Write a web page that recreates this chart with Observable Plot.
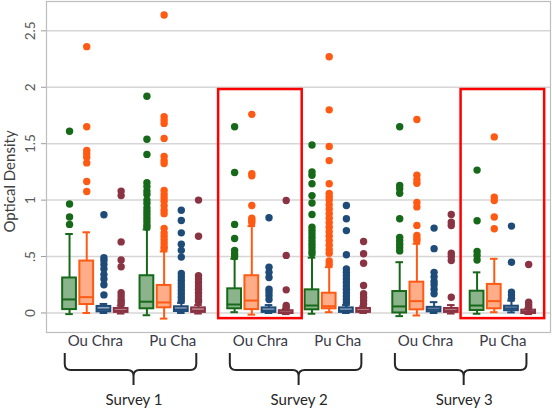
<!DOCTYPE html>
<html>
<head>
<meta charset="utf-8">
<script src="https://cdn.jsdelivr.net/npm/d3@7"></script>
<script src="https://cdn.jsdelivr.net/npm/@observablehq/plot@0.6"></script>
<style>
  html, body { margin: 0; padding: 0; background: #fff; }
  #chart svg { display: block; }
</style>
</head>
<body>
<div id="chart"></div>
<script>
// ---- data ----
const surveys = ["Survey 1", "Survey 2", "Survey 3"];
const sites = ["Ou Chra", "Pu Cha"];
const series = ["Series 1", "Series 2", "Series 3", "Series 4"];
const seriesColors = ["#17691a", "#ff5a14", "#1f4b79", "#8a3342"];
const yTicks = [0, 0.5, 1, 1.5, 2, 2.5];
const yTickLabels = ["0", ".5", "1", "1.5", "2", "2.5"];
const yTitle = "Optical Density";
const highlighted = [["Survey 2", "Ou Chra"], ["Survey 3", "Pu Cha"]];

// order: S1 Ou, S1 Pu, S2 Ou, S2 Pu, S3 Ou, S3 Pu; within each: series 1..4
const lowWhisker = [
  -0.01, 0.0, 0.0, -0.005,   -0.02, -0.05, 0.0, -0.005,
  0.007, -0.015, 0.0, -0.01, -0.007, 0.007, 0.0, 0.0,
  -0.028, -0.022, 0.0, -0.005, -0.007, 0.007, 0.005, -0.01
];
const q1 = [
  0.03, 0.075, 0.01, 0.005,  0.037, 0.046, 0.013, 0.005,
  0.037, 0.03, 0.005, -0.005, 0.028, 0.037, 0.005, 0.005,
  0.0, 0.028, 0.01, 0.005,  0.022, 0.037, 0.02, -0.005
];
const median = [
  0.12, 0.14, 0.03, 0.02,   0.10, 0.093, 0.03, 0.02,
  0.075, 0.11, 0.02, 0.005, 0.066, 0.06, 0.02, 0.02,
  0.058, 0.105, 0.03, 0.02, 0.066, 0.105, 0.04, 0.01
];
const q3 = [
  0.31, 0.46, 0.058, 0.04,  0.33, 0.244, 0.055, 0.045,
  0.214, 0.33, 0.045, 0.02, 0.205, 0.175, 0.045, 0.04,
  0.19, 0.273, 0.05, 0.04,  0.193, 0.253, 0.06, 0.025
];
const highWhisker = [
  0.70, 0.715, 0.08, 0.065, 0.74, 0.545, 0.09, 0.07,
  0.48, 0.77, 0.07, 0.035,  0.49, 0.406, 0.07, 0.06,
  0.45, 0.613, 0.096, 0.07, 0.36, 0.48, 0.11, 0.04
];
const outliers = [
  [1.61, 0.965, 0.85, 0.785],
  [2.36, 1.65, 1.44, 1.41, 1.38, 1.33, 1.165, 1.077],
  [0.87, 0.49, 0.465, 0.43, 0.39, 0.34, 0.30, 0.25, 0.16],
  [1.08, 1.04, 0.63, 0.47, 0.41, 0.18, 0.15, 0.12, 0.10, 0.08],

  [1.92, 1.54, 1.405, 1.155, 1.12, 1.08, 1.05, 1.0, 0.97, 0.93, 0.90, 0.87, 0.84, 0.81, 0.78, 0.76],
  [2.64, 1.74, 1.71, 1.68, 1.547, 1.387, 1.35, 1.325, 1.085, 1.05, 1.02, 0.99, 0.95, 0.91, 0.88, 0.75, 0.71, 0.68, 0.65, 0.62, 0.59, 0.57],
  [0.91, 0.82, 0.71, 0.61, 0.555, 0.495, 0.35, 0.32, 0.29, 0.26, 0.23, 0.20, 0.17, 0.14, 0.11],
  [1.0, 0.68, 0.33, 0.30, 0.27, 0.24, 0.21, 0.18, 0.15, 0.12, 0.10],

  [1.65, 1.245, 0.785, 0.66, 0.555, 0.525, 0.50],
  [1.76, 1.235, 1.215, 0.953, 0.84, 0.82, 0.80],
  [0.844, 0.405, 0.36, 0.315, 0.21, 0.185, 0.155, 0.12],
  [0.997, 0.51, 0.205, 0.066, 0.05],

  [1.488, 1.25, 1.22, 1.145, 1.04, 0.975, 0.873, 0.76, 0.73, 0.70, 0.67, 0.64, 0.61, 0.58, 0.55, 0.525],
  [2.27, 1.80, 1.476, 1.35, 1.145, 1.06, 1.03, 1.0, 0.96, 0.92, 0.88, 0.84, 0.80, 0.76, 0.72, 0.68, 0.64, 0.60, 0.56, 0.53, 0.46, 0.43],
  [0.953, 0.835, 0.73, 0.516, 0.39, 0.36, 0.33, 0.30, 0.27, 0.24, 0.21, 0.18, 0.15, 0.12, 0.09],
  [0.634, 0.525, 0.44, 0.244, 0.17, 0.14, 0.11, 0.08],

  [1.65, 1.13, 1.10, 1.06, 0.835, 0.67, 0.64, 0.61, 0.58, 0.55],
  [1.715, 1.22, 1.18, 1.15, 0.98, 0.94, 0.776, 0.687, 0.66, 0.64],
  [0.752, 0.57, 0.36, 0.32, 0.28, 0.25, 0.21, 0.17],
  [0.873, 0.805, 0.775, 0.53, 0.50, 0.465, 0.14],

  [1.266, 0.817, 0.545, 0.51, 0.47],
  [1.56, 1.027, 0.997, 0.85, 0.746],
  [0.77, 0.45, 0.185, 0.16, 0.13],
  [0.43, 0.096, 0.07, 0.05]
];

// ---- layout helpers (slot positions from category indices) ----
const SURVEY_STEP = 9.6, SITE_STEP = 4.5;
const slot = (s, t, k) => s * SURVEY_STEP + t * SITE_STEP + k;

const boxes = [];
const dots = [];
const groups = [];
surveys.forEach((survey, s) => {
  sites.forEach((site, t) => {
    groups.push({survey, site, s, t, center: slot(s, t, 1.5), first: slot(s, t, 0), last: slot(s, t, 3)});
    series.forEach((ser, k) => {
      const i = s * 8 + t * 4 + k;
      boxes.push({survey, site, series: ser, pos: slot(s, t, k),
        lo: lowWhisker[i], q1: q1[i], med: median[i], q3: q3[i], hi: highWhisker[i]});
      outliers[i].forEach(v => dots.push({series: ser, pos: slot(s, t, k), v}));
    });
  });
});
const surveyRows = surveys.map((survey, s) => ({survey, s, center: slot(s, 0, 3.75)}));
const hiRows = groups.filter(g => highlighted.some(([a, b]) => a === g.survey && b === g.site));

const BW = 0.4, CW = 0.22;

const plot = Plot.plot({
  width: 552,
  height: 411,
  marginLeft: 46,
  marginRight: 2,
  marginTop: 1,
  marginBottom: 79,
  style: {fontFamily: "Lato, 'Open Sans', sans-serif", background: "#fff"},
  x: {domain: [-1.34, 27.97], axis: null},
  y: {domain: [-0.173, 2.76], axis: null},
  color: {domain: series, range: seriesColors},
  marks: [
    Plot.gridY(yTicks, {stroke: "#d6d6d6", strokeOpacity: 1, strokeWidth: 1.5}),
    Plot.frame({stroke: "#bdbdbd", strokeWidth: 1.2}),
    Plot.axisY(yTicks, {
      tickFormat: d => yTickLabels[yTicks.indexOf(d)],
      tickRotate: -90, tickSize: 5, tickPadding: 7,
      fontSize: 13.5, color: "#595959", stroke: "#9a9a9a",
      label: null
    }),
    // whiskers
    Plot.ruleX(boxes, {x: "pos", y1: "lo", y2: "hi", stroke: "series", strokeWidth: 2}),
    Plot.ruleY(boxes, {y: "hi", x1: d => d.pos - CW, x2: d => d.pos + CW, stroke: "series", strokeWidth: 2}),
    Plot.ruleY(boxes, {y: "lo", x1: d => d.pos - CW, x2: d => d.pos + CW, stroke: "series", strokeWidth: 2}),
    // boxes
    Plot.rect(boxes, {x1: d => d.pos - BW, x2: d => d.pos + BW, y1: "q1", y2: "q3",
      fill: "#fff", stroke: "none"}),
    Plot.rect(boxes, {x1: d => d.pos - BW, x2: d => d.pos + BW, y1: "q1", y2: "q3",
      fill: "series", fillOpacity: 0.5, stroke: "series", strokeWidth: 2}),
    Plot.ruleY(boxes, {y: "med", x1: d => d.pos - BW, x2: d => d.pos + BW, stroke: "series", strokeWidth: 2}),
    // outliers
    Plot.dot(dots, {x: "pos", y: "v", r: 3.7, fill: "series", stroke: "none"}),
    // highlight rectangles
    Plot.rect(hiRows, {x1: d => d.first - 0.93, x2: d => d.last + 0.93, y1: -0.05, y2: 1.98,
      fill: "none", stroke: "#ff0000", strokeWidth: 2.5}),
    // site labels
    Plot.text(groups, {x: "center", text: "site", frameAnchor: "bottom", dy: 13,
      fontSize: 15, fill: "#3a3a48"}),
    // survey labels
    Plot.text(surveyRows, {x: "center", text: "survey", frameAnchor: "bottom", dy: 72,
      fontSize: 15, fill: "#262626"})
  ]
});

const svg = d3.select(plot);
// y-axis title
svg.append("text")
  .attr("transform", "translate(9.5,181.5) rotate(-90)")
  .attr("text-anchor", "middle")
  .attr("dy", "0.35em")
  .attr("font-size", 15)
  .attr("fill", "#404040")
  .text(yTitle);

// curly braces under each survey, positioned with the plot's x scale
const xs = plot.scale("x");
const frameBottom = 411 - 79;
const g = svg.append("g").attr("fill", "none").attr("stroke", "#262626").attr("stroke-width", 2);
surveyRows.forEach(r => {
  const xa = xs.apply(slot(r.s, 0, 0) - 0.25);
  const xb = xs.apply(slot(r.s, 1, 3) - 0.1);
  const cx = xs.apply(r.center);
  const yt = frameBottom + 21, ym = frameBottom + 38, yb = frameBottom + 53;
  g.append("path").attr("d",
    `M${xa},${yt} L${xa},${ym - 6} Q${xa},${ym} ${xa + 6},${ym} L${cx - 6},${ym} Q${cx},${ym} ${cx},${ym + 6} L${cx},${yb}` +
    ` M${cx},${ym + 6} Q${cx},${ym} ${cx + 6},${ym} L${xb - 6},${ym} Q${xb},${ym} ${xb},${ym - 6} L${xb},${yt}`);
});

document.getElementById("chart").appendChild(plot);
</script>
</body>
</html>
